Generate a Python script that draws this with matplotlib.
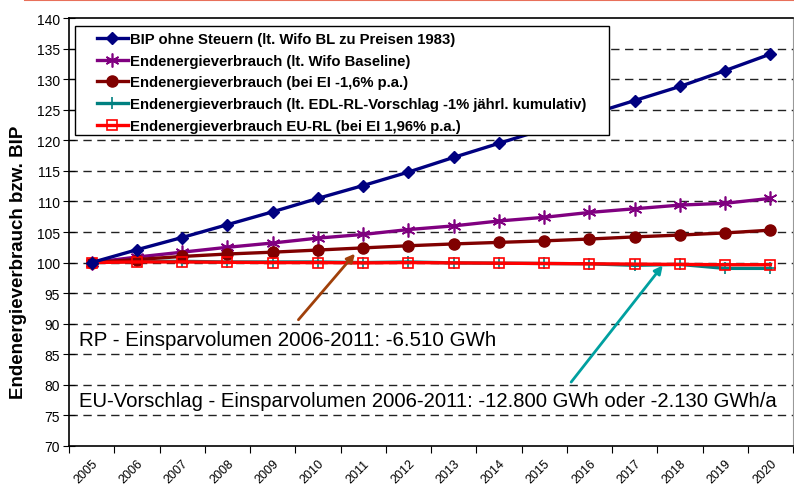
import matplotlib
matplotlib.use("Agg")
import matplotlib.pyplot as plt
from matplotlib.lines import Line2D
from matplotlib.patches import Rectangle
from matplotlib.legend_handler import HandlerLine2D
from matplotlib.transforms import ScaledTranslation
import numpy as np

years = [str(y) for y in range(2005, 2021)]
bip = [100, 102.1, 104.1, 106.2, 108.3, 110.5, 112.6, 114.8, 117.2, 119.5, 121.8, 124.2, 126.5, 128.8, 131.4, 134.1]
wifo = [100, 100.9, 101.7, 102.5, 103.2, 104.0, 104.6, 105.4, 106.0, 106.8, 107.4, 108.2, 108.8, 109.4, 109.7, 110.5]
ei16 = [100, 100.5, 101.0, 101.4, 101.7, 102.05, 102.4, 102.75, 103.05, 103.3, 103.55, 103.85, 104.2, 104.5, 104.85, 105.3]
edl = [100, 100.2, 100.2, 100.1, 100.1, 100.1, 100.0, 100.1, 99.95, 99.9, 99.85, 99.8, 99.55, 99.7, 99.05, 99.05]
eurl = [100, 100.1, 100.1, 100.05, 100.0, 100.0, 99.95, 100.0, 99.95, 99.9, 99.85, 99.8, 99.75, 99.7, 99.65, 99.65]

labels = ["BIP ohne Steuern (lt. Wifo BL zu Preisen 1983)",
          "Endenergieverbrauch (lt. Wifo Baseline)",
          "Endenergieverbrauch (bei EI -1,6% p.a.)",
          "Endenergieverbrauch (lt. EDL-RL-Vorschlag -1% jährl. kumulativ)",
          "Endenergieverbrauch EU-RL (bei EI 1,96% p.a.)"]
yticks = list(range(70, 141, 5))
note_rp = "RP - Einsparvolumen 2006-2011: -6.510 GWh"
note_eu = "EU-Vorschlag - Einsparvolumen 2006-2011: -12.800 GWh oder -2.130 GWh/a"

plt.rcParams['font.family'] = ['Liberation Sans', 'DejaVu Sans']

W, H = 794, 489
fig = plt.figure(figsize=(W / 100, H / 100), dpi=100)
ax = fig.add_axes([69 / W, 42 / H, 724 / W, 428 / H])
x = np.arange(len(years))

lw = 2.4
ax.plot(x, bip, color='#000080', lw=lw, marker='D', ms=6.5, label=labels[0], zorder=5)
ax.plot(x, wifo, color='#800080', lw=lw, marker=(6, 2, 0), ms=10, mew=1.2, label=labels[1], zorder=4)
ax.plot(x, ei16, color='#800000', lw=lw, marker='o', ms=8, label=labels[2], zorder=4)
ax.plot(x, edl, color='#008080', lw=lw, marker='+', ms=9, mew=1.2, label=labels[3], zorder=3)
ax.plot(x, eurl, color='#FF0000', lw=lw, marker='s', ms=7, mfc='none', mew=1.2, label=labels[4], zorder=4)

ax.set_xlim(-0.5, len(years) - 0.5)
ax.set_ylim(70, 140)
ax.set_yticks(yticks)
ax.set_yticklabels([str(v) for v in yticks], fontsize=10)
ax.set_xticks(np.arange(-0.5, len(years), 1.0))
ax.set_xticklabels([])
ax.set_xticks(x, minor=True)
ax.set_xticklabels(years, minor=True, rotation=45, ha='right', va='top',
                   rotation_mode='anchor', fontsize=9)
off = ScaledTranslation(-9 / 100, -4 / 100, fig.dpi_scale_trans)
for lab in ax.get_xticklabels(minor=True):
    lab.set_transform(lab.get_transform() + off)
ax.tick_params(axis='x', which='minor', length=0, pad=8)
ax.tick_params(axis='x', which='major', length=5, direction='out')
ax.tick_params(axis='y', length=9, direction='inout', pad=2)

for v in yticks[1:-1]:
    ax.axhline(v, color='#222222', lw=1.0, ls=(0, (6, 4)), zorder=1)

ax.spines['right'].set_color('#999999')
for s in ['left', 'bottom', 'top']:
    ax.spines[s].set_color('black')
    ax.spines[s].set_linewidth(1.2)

ax.set_ylabel("Endenergieverbrauch bzw. BIP", fontsize=13.5, fontweight='bold')
ax.yaxis.set_label_coords((27 - 69) / 724, (447 - 262) / 428)

def ax_px(px, py):
    return ((px - 69) / 724, (447 - py) / 428)

l0, t0 = ax_px(75, 27)
r0, b0 = ax_px(609, 136)
frame = Rectangle((l0, b0), r0 - l0, t0 - b0, transform=ax.transAxes,
                  facecolor='white', edgecolor='black', lw=1.0, zorder=9)
ax.add_patch(frame)

fs_leg = 10.7
leg = ax.legend(loc='upper left', bbox_to_anchor=ax_px(79, 33),
                prop={'weight': 'bold', 'size': fs_leg}, frameon=False,
                handlelength=3.3, handletextpad=0.15,
                labelspacing=0.52, borderpad=0.0, borderaxespad=0,
                handler_map={Line2D: HandlerLine2D(xpad=1.2)})
leg.set_zorder(10)

ax.text(-0.27, 87.5, note_rp, fontsize=14.8, va='center', ha='left', zorder=6)
ax.text(-0.27, 77.5, note_eu, fontsize=14.6, va='center', ha='left', zorder=6)

ax.annotate("", xy=(5.86, 101.8), xytext=(4.53, 90.3),
            arrowprops=dict(arrowstyle='-|>', color='#A0400A', lw=2, mutation_scale=12), zorder=6)
ax.annotate("", xy=(12.66, 99.9), xytext=(10.56, 80.1),
            arrowprops=dict(arrowstyle='-|>', color='#00A0A0', lw=2, mutation_scale=12), zorder=6)

fig.add_artist(Line2D([0.031, 1.0], [0.997, 0.997], color='#E8705A', lw=1.5, transform=fig.transFigure))

fig.savefig("out.png", dpi=100)
